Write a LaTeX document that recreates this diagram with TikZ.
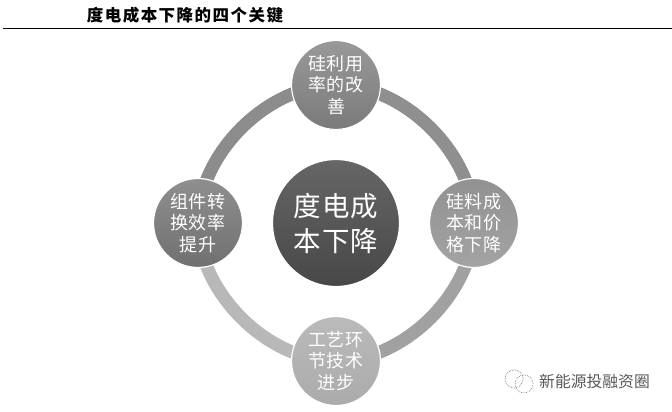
\documentclass[tikz,border=0pt]{standalone}
\usepackage{fontspec}
\setmainfont{Noto Sans CJK SC}
\newfontfamily\headfont[LetterSpace=9]{Noto Sans CJK SC}
\newfontfamily\hubfont[LetterSpace=3]{Noto Sans CJK SC}
\newfontfamily\markfont{Noto Sans CJK SC}
\usetikzlibrary{backgrounds}
\definecolor{ringA}{gray}{0.56}
\definecolor{ringB}{gray}{0.63}
\definecolor{ringC}{gray}{0.72}
\definecolor{ringD}{gray}{0.55}
\begin{document}
\begin{tikzpicture}[x=1pt,y=1pt,node distance=138pt,
		hub/.style={circle, draw=white, line width=1.2pt, inner sep=0, minimum size=89pt, align=center, text=white, font=\hubfont\fontsize{18}{21.5}\selectfont},
		core/.style={hub, minimum size=127pt, font=\hubfont\fontsize{27.5}{35}\selectfont},
		ring/.style={line width=13pt, looseness=0.9, bend left=45},
		bubble/.style={circle, draw=black!50, densely dotted, line width=0.7pt, inner sep=0, minimum size=18pt}]
		
		\path[use as bounding box] (0,0) rectangle (672,412);
		
		\node [font=\headfont\bfseries\fontsize{16.5}{16}\selectfont] (title) at (185,397) {度电成本下降的四个关键};
		\coordinate (ruleL) at (3,384);
		\coordinate (ruleR) at (672,384);
		\draw [line width=0.9pt] (ruleL) -- (ruleR);
		
		\begin{scope}
		\node [core,top color=black!60,bottom color=black!72] (cost) at (336,189) {度电成\\本下降};
		\node [hub,above of=cost,top color=black!40,bottom color=black!52] (silicon) {硅利用\\率的改\\善};
		\node [hub,right of=cost,top color=black!43,bottom color=black!36] (price) {硅料成\\本和价\\格下降};
		\node [hub,below of=cost,top color=black!27,bottom color=black!33] (process) {工艺环\\节技术\\进步};
		\node [hub,left of=cost,top color=black!44,bottom color=black!56] (module) {组件转\\换效率\\提升};
		\begin{scope}[on background layer]
		\draw [ring,ringA] (silicon.center) to (price.center);
		\draw [ring,ringB] (price.center) to (process.center);
		\draw [ring,ringC] (process.center) to (module.center);
		\draw [ring,ringD] (module.center) to (silicon.center);
		\end{scope}
		\end{scope}
		
		\node [bubble] (chatL) at (514,33) {};
		\node [bubble] (chatR) at (524,28) {};
		\node [text=black!65,font=\markfont\fontsize{15.8}{16}\selectfont] (mark) at (594.5,31) {新能源投融资圈};
\end{tikzpicture}
\end{document}
